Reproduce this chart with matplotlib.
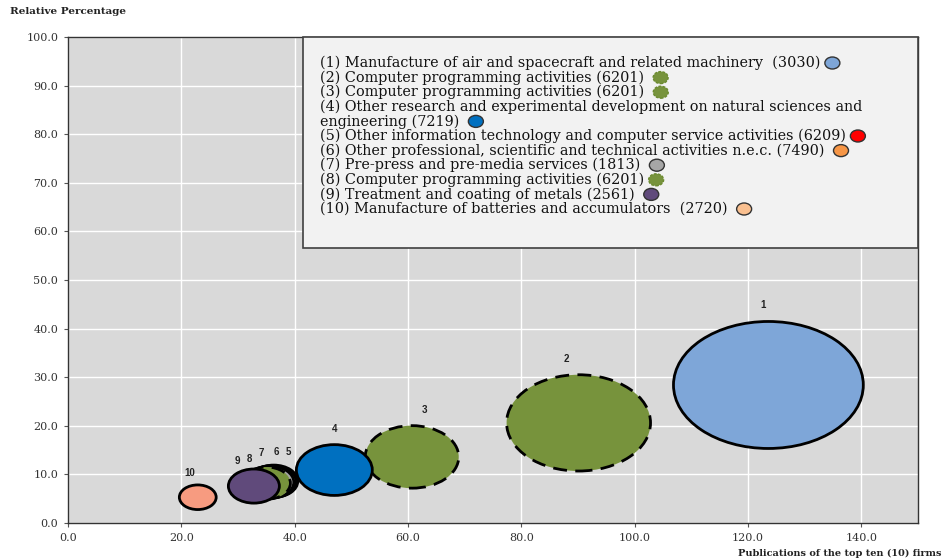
import matplotlib
matplotlib.use("Agg")
import matplotlib.pyplot as plt
from matplotlib.patches import Ellipse, Rectangle

# ---- data ----
bubble_ids = ["1", "2", "3", "4", "5", "6", "7", "8", "9", "10"]
publications = [123.6, 90.1, 60.7, 47.0, 36.3, 36.0, 35.6, 35.0, 32.8, 22.9]
relative_pct = [28.4, 20.6, 13.6, 10.9, 8.6, 8.5, 8.4, 8.2, 7.6, 5.3]
bubble_size = [33.5, 25.4, 16.5, 13.4, 8.5, 8.5, 8.5, 8.5, 9.0, 6.5]
bubble_colors = ["#7ea6d8", "#77933c", "#77933c", "#0070c0", "#c00000",
                 "#f79646", "#a6a6a6", "#77933c", "#604a7b", "#f79b80"]
bubble_dashed = [False, True, True, False, False, False, False, True, False, False]

legend_lines = [
    "(1) Manufacture of air and spacecraft and related machinery  (3030)",
    "(2) Computer programming activities (6201) ",
    "(3) Computer programming activities (6201) ",
    "(4) Other research and experimental development on natural sciences and",
    "engineering (7219) ",
    "(5) Other information technology and computer service activities (6209)",
    "(6) Other professional, scientific and technical activities n.e.c. (7490) ",
    "(7) Pre-press and pre-media services (1813) ",
    "(8) Computer programming activities (6201)",
    "(9) Treatment and coating of metals (2561) ",
    "(10) Manufacture of batteries and accumulators  (2720) ",
]
legend_marker_colors = ["#7ea6d8", "#77933c", "#77933c", None, "#0070c0", "#ff0000",
                        "#f79646", "#a6a6a6", "#77933c", "#604a7b", "#fac090"]
legend_marker_dashed = [False, True, True, False, False, False, False, False, True, False, False]

x_ticks = [0, 20, 40, 60, 80, 100, 120, 140]
y_ticks = [0, 10, 20, 30, 40, 50, 60, 70, 80, 90, 100]

# label offsets (points) for readability in the crowded cluster
label_dx = [-4, -9, 9, 0, 10.5, 3, -6, -12, -12, -6]
label_dy = [8, 8, 8, 8, 6, 6, 6, 2, 2, 5]

ASPECT = 0.78  # vertical stretch of bubbles relative to x-units

fig = plt.figure(figsize=(9.45, 5.6), dpi=100)
ax = fig.add_axes([68/945, 37/560, (918-68)/945, (523-37)/560])
ax.set_facecolor("#d9d9d9")
ax.set_xlim(0, 150)
ax.set_ylim(0, 100)
ax.set_xticks(x_ticks)
ax.set_yticks(y_ticks)
ax.set_xticklabels([f"{v:.1f}" for v in x_ticks], family="DejaVu Serif", fontsize=8, color="#333333")
ax.set_yticklabels([f"{v:.1f}" for v in y_ticks], family="DejaVu Serif", fontsize=8, color="#333333")
ax.tick_params(axis="both", length=3, width=0.8, color="#555555", pad=4)
ax.grid(True, color="white", linewidth=1.0)
ax.set_axisbelow(True)
for s in ["left", "bottom", "top", "right"]:
    ax.spines[s].set_color("#333333")
    ax.spines[s].set_linewidth(1.0)

for i in range(len(bubble_ids)):
    w = bubble_size[i]
    h = w * ASPECT
    e = Ellipse((publications[i], relative_pct[i]), w, h,
                facecolor=bubble_colors[i], edgecolor="black",
                linewidth=2.0, linestyle=(0, (5, 3)) if bubble_dashed[i] else "solid",
                zorder=3 + i)
    ax.add_patch(e)
    ax.annotate(bubble_ids[i], (publications[i], relative_pct[i] + h / 2),
                xytext=(label_dx[i], label_dy[i]), textcoords="offset points",
                ha="center", va="bottom", fontsize=7, fontweight="bold",
                family="Liberation Sans", color="#222222", zorder=20)

# legend box
box = Rectangle((303/945, 1 - 248/560), (918-303)/945, (248-37)/560,
                transform=fig.transFigure, facecolor="#f2f2f2",
                edgecolor="#404040", linewidth=1.2, zorder=30)
fig.add_artist(box)

texts = []
y0 = 63
dy = 14.6
for k, line in enumerate(legend_lines):
    t = fig.text(320/945, 1 - (y0 + k*dy)/560, line, family="DejaVu Serif",
                 fontsize=10.4, va="center", ha="left", color="#111111", zorder=31)
    texts.append(t)

fig.canvas.draw()
r = fig.canvas.get_renderer()
for k, t in enumerate(texts):
    c = legend_marker_colors[k]
    if c is None:
        continue
    bb = t.get_window_extent(r)
    cx = (bb.x1 + 12) / 945
    cy = 1 - (y0 + k*dy)/560
    m = Ellipse((cx, cy), 15/945, 12/560, transform=fig.transFigure,
                facecolor=c, edgecolor="#6b8a2f" if legend_marker_dashed[k] else "#333333",
                linewidth=1.0, linestyle=(0, (2, 1)) if legend_marker_dashed[k] else "solid",
                zorder=32)
    fig.add_artist(m)

fig.text(10/945, 1 - 12/560, "Relative Percentage", family="DejaVu Serif",
         fontsize=7.5, fontweight="bold", va="center", ha="left", color="#222222")
fig.text(942/945, 1 - 553/560, "Publications of the top ten (10) firms", family="DejaVu Serif",
         fontsize=7.0, fontweight="bold", va="center", ha="right", color="#222222")

fig.savefig("out.png", dpi=100)
